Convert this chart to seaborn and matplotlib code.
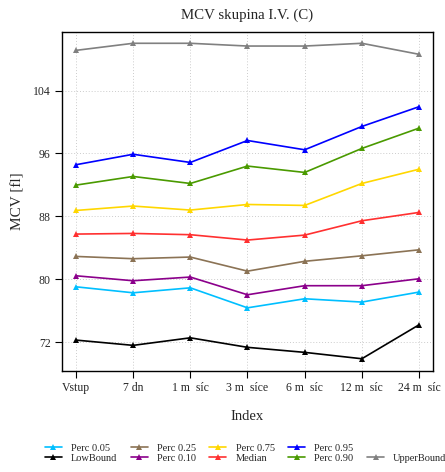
import matplotlib
matplotlib.use("Agg")
import matplotlib.pyplot as plt
import seaborn as sns
import pandas as pd
from matplotlib.lines import Line2D

categories = ["Vstup", "7 dn", "1 m  síc", "3 m  síce", "6 m  síc", "12 m  síc", "24 m  síc"]

perc_005 = [79.06, 78.30, 78.93, 76.39, 77.54, 77.12, 78.39]
low_bound = [72.29, 71.62, 72.58, 71.37, 70.73, 69.92, 74.23]
perc_025 = [82.92, 82.63, 82.84, 81.05, 82.30, 83.00, 83.76]
perc_010 = [80.46, 79.83, 80.30, 78.05, 79.20, 79.20, 80.08]
perc_075 = [88.76, 89.32, 88.81, 89.52, 89.40, 92.19, 94.00]
median = [85.76, 85.84, 85.68, 85.00, 85.63, 87.45, 88.51]
perc_095 = [94.57, 95.90, 94.86, 97.65, 96.47, 99.43, 101.94]
perc_090 = [91.98, 93.08, 92.19, 94.40, 93.59, 96.64, 99.22]
upper_bound = [109.10, 110.00, 110.00, 109.65, 109.65, 110.00, 108.60]

series_names = ["Perc 0.05", "LowBound", "Perc 0.25", "Perc 0.10", "Perc 0.75",
                "Median", "Perc 0.95", "Perc 0.90", "UpperBound"]
series_values = [perc_005, low_bound, perc_025, perc_010, perc_075,
                 median, perc_095, perc_090, upper_bound]
colors = {"Perc 0.05": "#00bfff", "LowBound": "#000000", "Perc 0.25": "#8b7355",
          "Perc 0.10": "#8b008b", "Perc 0.75": "#ffd700", "Median": "#ff3030",
          "Perc 0.95": "#0000ff", "Perc 0.90": "#4a9a00", "UpperBound": "#808080"}

rows = []
for name, vals in zip(series_names, series_values):
    for i, v in enumerate(vals):
        rows.append({"x": i, "value": v, "series": name})
df = pd.DataFrame(rows)

sns.set_style("white")
plt.rcParams["font.family"] = ["Liberation Serif", "DejaVu Serif"]

fig = plt.figure(figsize=(4.45, 4.72), dpi=100)
ax = fig.add_axes([0.1386, 0.2146, 0.9737 - 0.1386, 0.9328 - 0.2146])

sns.lineplot(data=df, x="x", y="value", hue="series", hue_order=series_names,
             palette=colors, marker="^", markersize=5, markeredgewidth=0,
             linewidth=1.2, ax=ax, legend=False)

ax.set_xlim(-0.25, 6.25)
ax.set_ylim(68.4, 111.47)
ax.set_xticks(range(len(categories)))
ax.set_xticklabels(categories, fontsize=8.5)
ax.set_yticks([72, 80, 88, 96, 104])
ax.set_yticklabels(["72", "80", "88", "96", "104"], fontsize=8.5)
ax.tick_params(axis="both", direction="out", length=5, width=0.8, color="black",
               bottom=True, left=True, pad=3)
ax.grid(True, linestyle=(0, (1, 2)), color="#cccccc", linewidth=0.7)
for sp in ax.spines.values():
    sp.set_color("black")
    sp.set_linewidth(1.0)

ax.set_xlabel("Index", fontsize=10.5, labelpad=12)
ax.set_ylabel("MCV [fl]", fontsize=11, labelpad=6)
ax.set_title("MCV skupina I.V. (C)", fontsize=10.7, pad=9)

handles = []
labels = []
order = ["Perc 0.05", "LowBound", "Perc 0.25", "Perc 0.10", "Perc 0.75",
         "Median", "Perc 0.95", "Perc 0.90", None, "UpperBound"]
for name in order:
    if name is None:
        handles.append(Line2D([], [], linestyle="none", marker=None, alpha=0))
        labels.append("")
    else:
        handles.append(Line2D([], [], color=colors[name], marker="^", markersize=4,
                              markeredgewidth=0, linewidth=1.2))
        labels.append(name)

fig.legend(handles, labels, ncol=5, loc="center", bbox_to_anchor=(0.552, 0.040),
           frameon=False, fontsize=7.5, handlelength=1.63, handletextpad=0.87,
           columnspacing=1.3, labelspacing=0.05, borderpad=0.0, borderaxespad=0.0)

fig.savefig("out.png", dpi=100)
